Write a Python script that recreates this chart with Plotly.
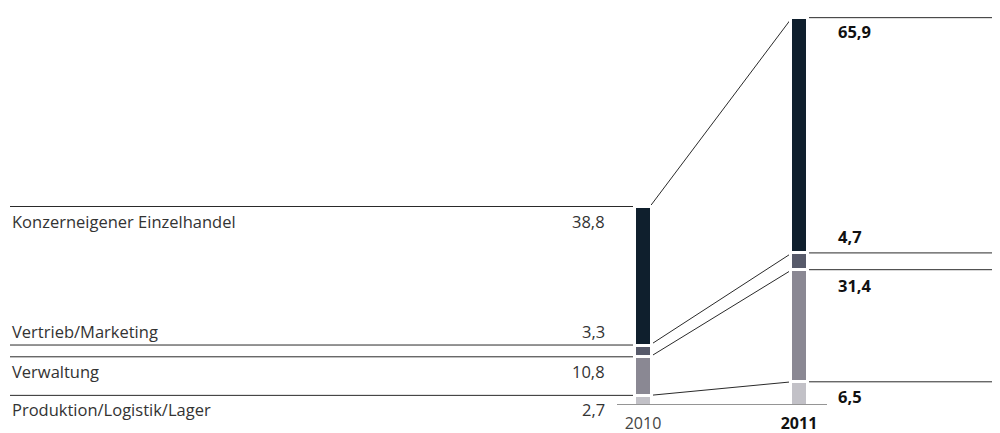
import plotly.graph_objects as go

# Werte je Bereich (von unten nach oben gestapelt)
years = ['2010', '2011']
categories = ['Produktion/Logistik/Lager', 'Verwaltung', 'Vertrieb/Marketing', 'Konzerneigener Einzelhandel']
values_2010 = [2.7, 10.8, 3.3, 38.8]
values_2011 = [6.5, 31.4, 4.7, 65.9]
colors = ['#c2c1c7', '#8a8893', '#575a6a', '#0f1f2d']
value_labels_2010 = ['2,7', '10,8', '3,3', '38,8']
value_labels_2011 = ['6,5', '31,4', '4,7', '65,9']

# the page body has an 8px margin, so the figure is a bit smaller than the window
W, H = 992, 425
PX_X = 156.0          # pixel per x unit (distance between bars)
X0_PX = 635.0         # pixel position of first bar
XR = [-X0_PX / PX_X, (W - X0_PX) / PX_X]
PLOT_H = 397
YMAX = PLOT_H / 3.57
BAR_W = 17 / PX_X
HALF_VIS = 7 / PX_X
LINE_COLOR = '#2a2a2a'
FONT = 'Open Sans'

fig = go.Figure()
for i, cat in enumerate(categories):
    fig.add_trace(go.Bar(
        x=[0, 1], y=[values_2010[i], values_2011[i]], name=cat,
        width=BAR_W, marker=dict(color=colors[i], line=dict(color='white', width=3)),
        hoverinfo='name+y'))


def cum(vals):
    out, s = [], 0
    for v in vals:
        s += v
        out.append(s)
    return out


c10 = cum(values_2010)
c11 = cum(values_2011)
left_x = XR[0] + 2 / PX_X

shapes = []
for i in range(len(categories)):
    y10, y11 = c10[i], c11[i]
    pts = [(left_x, y10), (HALF_VIS, y10), (1 - HALF_VIS, y11), (XR[1], y11)]
    path = 'M ' + ' L '.join(f'{x},{y}' for x, y in pts)
    shapes.append(dict(type='path', path=path, xref='x', yref='y', layer='below',
                       line=dict(color=LINE_COLOR, width=1)))

# Grundlinie
shapes.append(dict(type='line', xref='x', yref='y', x0=-26 / PX_X, x1=1 + 28 / PX_X, y0=0, y1=0,
                   line=dict(color=LINE_COLOR, width=1)))

# label offsets (px): above (+) or below (-) the boundary line
left_shift = [-14, -15, 14, -15]
right_shift = [-15, -16, 16, -14]

annotations = []
for i, cat in enumerate(categories):
    annotations.append(dict(x=2 / W, xref='paper', y=c10[i], yref='y', yshift=left_shift[i],
                            text=cat, showarrow=False, xanchor='left', yanchor='middle',
                            font=dict(family=FONT, size=16.5, color='#333333')))
    annotations.append(dict(x=599 / W, xref='paper', y=c10[i], yref='y', yshift=left_shift[i],
                            text=value_labels_2010[i], showarrow=False, xanchor='right', yanchor='middle',
                            font=dict(family=FONT, size=16.5, color='#333333')))
    annotations.append(dict(x=828 / W, xref='paper', y=c11[i], yref='y', yshift=right_shift[i],
                            text='<b>' + value_labels_2011[i] + '</b>', showarrow=False,
                            xanchor='left', yanchor='middle',
                            font=dict(family=FONT, size=16.5, color='#111111')))

fig.update_layout(
    width=W, height=H, barmode='stack', showlegend=False,
    margin=dict(l=0, r=0, t=0, b=H - PLOT_H),
    paper_bgcolor='white', plot_bgcolor='white',
    shapes=shapes, annotations=annotations,
    xaxis=dict(range=XR, tickvals=[0, 1],
               ticktext=['<span style="color:#444">' + years[0] + '</span>', '<b>' + years[1] + '</b>'],
               showgrid=False, zeroline=False, showline=False, ticks='', ticklabelstandoff=7,
               tickfont=dict(family=FONT, size=16, color='#111111'), fixedrange=True,
               automargin=False),
    yaxis=dict(range=[0, YMAX], visible=False, fixedrange=True),
)

fig.write_html('out.html')
